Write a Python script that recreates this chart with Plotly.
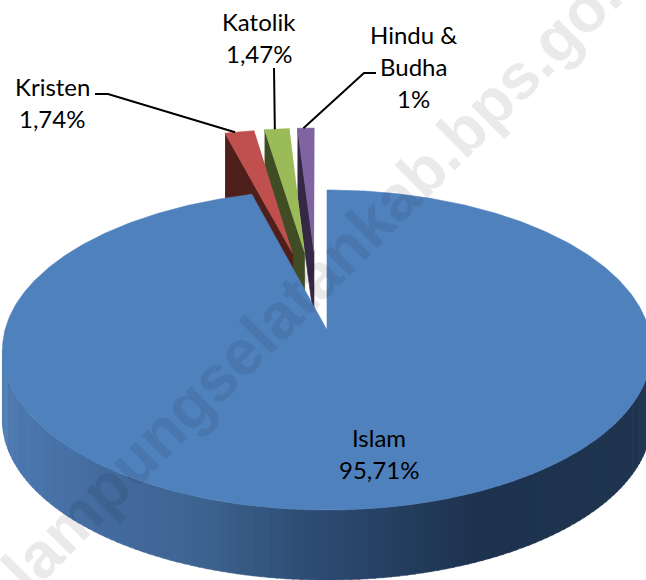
import numpy as np
import plotly.graph_objects as go

# Data
categories = ["Islam", "Kristen", "Katolik", "Hindu & Budha"]
values = [95.71, 1.74, 1.47, 1.0]
label_lines = [["Islam", "95,71%"], ["Kristen", "1,74%"], ["Katolik", "1,47%"], ["Hindu &", "Budha", "1%"]]

# Styles
top_colors = ["#4F81BD", "#C0504D", "#9BBB59", "#8064A2"]
dark_colors = [None, "#4F1F1C", "#3F4C24", "#342845"]
W, H = 646, 580
CX, CY, A, B, K = 327.0, 330.0, 322.0, 157.5, 0.125
DEPTH = 68
EXPLODE = 0.527
NUDGE = [0, -1, -5, -8]
LEADER_AT = [0, 0.35, 0.42, 0.35]
label_pos = [(379, 437), (52, 86), (259, 21), (413, 34)]
LINE_STEP = 32
elbows = [None, [(95, 94), (108, 94)], [(274, 68)], [(376, 73), (364, 73)]]
side_x = [0, 100, 200, 300, 480, 646]
side_r = [0x4C, 0x45, 0x3D, 0x2F, 0x1D, 0x1F]
side_g = [0x7A, 0x6C, 0x64, 0x4E, 0x32, 0x35]
side_b = [0xB2, 0x9F, 0x91, 0x76, 0x4E, 0x50]


def project(X, Y):
    d = 1 + K * np.asarray(Y)
    return CX + A * np.asarray(X) / d, CY - B * np.asarray(Y) / d


def arc(t0, t1, n=200):
    t = np.radians(np.linspace(t0, t1, n))
    return np.sin(t), np.cos(t)


def poly(x, y, color):
    return go.Scatter(x=list(x), y=list(y), mode="lines", fill="toself", fillcolor=color,
                      line=dict(color=color, width=0.6), hoverinfo="skip", showlegend=False)


fractions = np.array(values) / sum(values)
spans = fractions * 360
fig = go.Figure()

# Islam rim, painted in narrow strips for the horizontal shading
islam_start, islam_end = 0.0, spans[0]
t_wide = np.degrees(np.arccos(-K))
edges = np.linspace(t_wide, 360 - t_wide, 131)
for t0, t1 in zip(edges[:-1], edges[1:]):
    xs, ys = project(*arc(t0, t1 + 0.25, 5))
    xm = xs.mean()
    col = "rgb(%d,%d,%d)" % (np.interp(xm, side_x, side_r), np.interp(xm, side_x, side_g), np.interp(xm, side_x, side_b))
    fig.add_trace(poly(np.r_[xs, xs[::-1]], np.r_[ys, ys[::-1] + 70], col))

# Exploded slices: computed in order, painted back to front (last slice first)
start = islam_end
ends = {}
slices = []
for i in range(1, 4):
    t0, t1 = start, start + spans[i]
    mid = np.radians((t0 + t1) / 2)
    dx, dy = EXPLODE * np.sin(mid), EXPLODE * np.cos(mid)
    ax, ay = arc(t0, t1, 30)
    px, py = project(ax + dx, ay + dy)
    apx, apy = project(dx, dy)
    px = px + NUDGE[i]
    apx = apx + NUDGE[i]
    slices.append((i, px, py, apx, apy))
    k = int(LEADER_AT[i] * (len(px) - 1))
    ends[i] = (px[k], py[k])
    start = t1

for i, px, py, apx, apy in reversed(slices):
    fig.add_trace(poly([px[0], apx, apx, px[0]], [py[0], apy, apy + DEPTH, py[0] + DEPTH], dark_colors[i]))
    fig.add_trace(poly(np.r_[apx, px], np.r_[apy, py], top_colors[i]))

# Islam top face
ax, ay = arc(islam_start, islam_end, 500)
px, py = project(ax, ay)
ox, oy = project(0.0, 0.0)
fig.add_trace(poly(np.r_[ox, px, ox], np.r_[oy, py, oy], top_colors[0]))

# Leader lines
for i in range(1, 4):
    pts = elbows[i] + [ends[i]]
    fig.add_trace(go.Scatter(x=[p[0] for p in pts], y=[p[1] for p in pts], mode="lines",
                             line=dict(color="black", width=2), hoverinfo="skip", showlegend=False))

annotations = []
for lines, (lx, ly) in zip(label_lines, label_pos):
    for j, txt in enumerate(lines):
        annotations.append(dict(x=lx, y=ly + j * LINE_STEP, text=txt, showarrow=False, xref="x", yref="y",
                                font=dict(family="Lato", size=24, color="black")))

# Watermark
annotations.append(dict(x=332, y=262, text="lampungselatankab.bps.go.id", textangle=-45, showarrow=False,
                        xref="x", yref="y", opacity=0.08,
                        font=dict(family="Liberation Sans", size=64, color="black", weight="bold")))

fig.update_layout(width=W, height=H, margin=dict(l=0, r=0, t=0, b=0), paper_bgcolor="white", plot_bgcolor="white",
                  showlegend=False, annotations=annotations,
                  xaxis=dict(range=[0, W], visible=False, fixedrange=True),
                  yaxis=dict(range=[H, 0], visible=False, fixedrange=True))
fig.write_html("out.html", config={"displayModeBar": False},
               post_script="document.body.style.margin='0';document.body.style.overflow='hidden';")
